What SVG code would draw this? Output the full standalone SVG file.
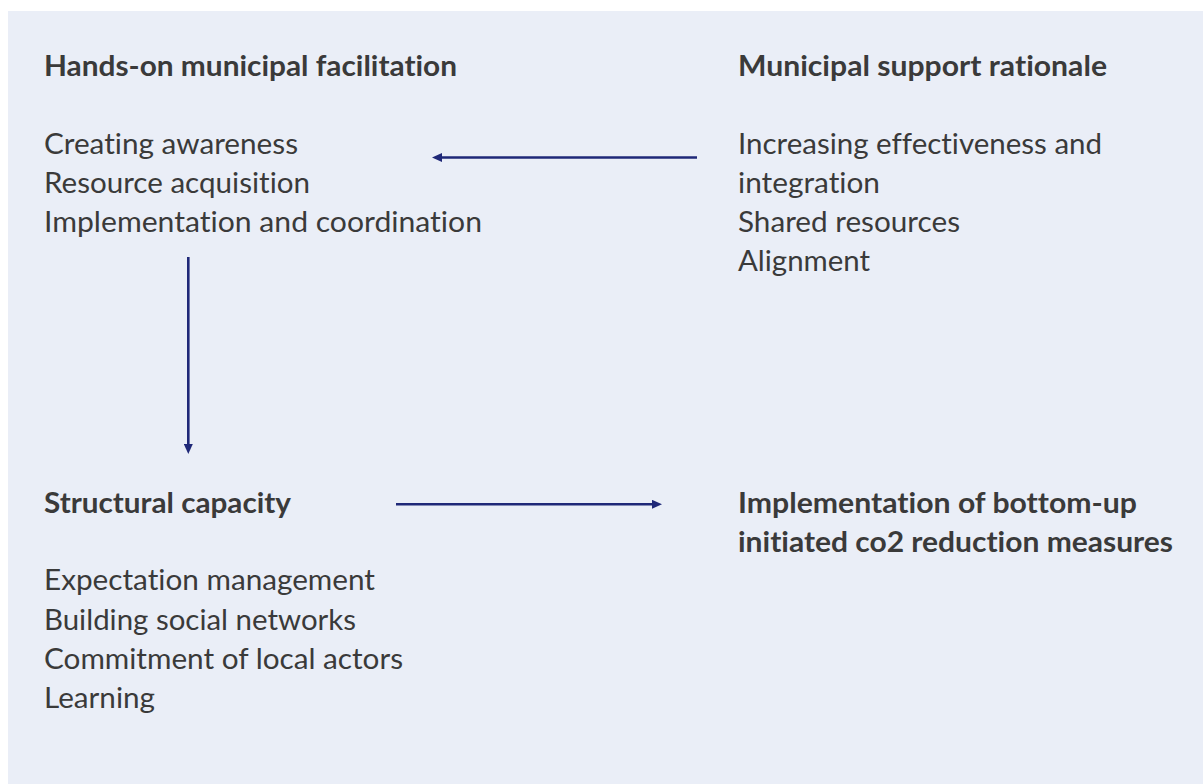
<svg xmlns="http://www.w3.org/2000/svg" width="1203" height="784" viewBox="0 0 1203 784">
  <defs>
    <style>
      .panel { fill: #EAEEF7; }
      .txt { font-family: Lato, "Open Sans", "Liberation Sans", sans-serif; font-size: 29px; fill: #3a3a3a; font-variant-ligatures: none; font-feature-settings: "liga" 0, "clig" 0; }
      .hd { font-weight: bold; }
      .conn { stroke: #1f2878; stroke-width: 2.6; fill: none; }
    </style>
    <marker id="head" markerUnits="userSpaceOnUse" markerWidth="11" markerHeight="9" refX="1" refY="4.5" orient="auto">
      <path d="M0,0 L10,4.5 L0,9 z" fill="#1f2878"/>
    </marker>
  </defs>

  <!-- background panel -->
  <rect class="panel" x="8" y="11" width="1195" height="773"/>

  <!-- top-left block -->
  <g id="facilitation">
    <text class="txt hd" x="44" y="76" textLength="413" lengthAdjust="spacingAndGlyphs">Hands-on municipal facilitation</text>
    <text class="txt" x="44" y="154" textLength="254" lengthAdjust="spacingAndGlyphs">Creating awareness</text>
    <text class="txt" x="44" y="193" textLength="266" lengthAdjust="spacingAndGlyphs">Resource acquisition</text>
    <text class="txt" x="44" y="232" textLength="438" lengthAdjust="spacingAndGlyphs">Implementation and coordination</text>
  </g>

  <!-- top-right block -->
  <g id="rationale">
    <text class="txt hd" x="738" y="76" textLength="369" lengthAdjust="spacingAndGlyphs">Municipal support rationale</text>
    <text class="txt" x="738" y="154" textLength="364" lengthAdjust="spacingAndGlyphs">Increasing effectiveness and</text>
    <text class="txt" x="738" y="193" textLength="142" lengthAdjust="spacingAndGlyphs">integration</text>
    <text class="txt" x="738" y="232" textLength="222" lengthAdjust="spacingAndGlyphs">Shared resources</text>
    <text class="txt" x="738" y="271" textLength="132" lengthAdjust="spacingAndGlyphs">Alignment</text>
  </g>

  <!-- bottom-left block -->
  <g id="capacity">
    <text class="txt hd" x="44" y="513" textLength="247" lengthAdjust="spacingAndGlyphs">Structural capacity</text>
    <text class="txt" x="44" y="590" textLength="331" lengthAdjust="spacingAndGlyphs">Expectation management</text>
    <text class="txt" x="44" y="629.5" textLength="312" lengthAdjust="spacingAndGlyphs">Building social networks</text>
    <text class="txt" x="44" y="669" textLength="359" lengthAdjust="spacingAndGlyphs">Commitment of local actors</text>
    <text class="txt" x="44" y="708" textLength="111" lengthAdjust="spacingAndGlyphs">Learning</text>
  </g>

  <!-- bottom-right block -->
  <g id="implementation">
    <text class="txt hd" x="738" y="513" textLength="399" lengthAdjust="spacingAndGlyphs">Implementation of bottom-up</text>
    <text class="txt hd" x="738" y="552" textLength="435" lengthAdjust="spacingAndGlyphs">initiated co2 reduction measures</text>
  </g>

  <!-- connectors -->
  <g id="connectors">
    <line class="conn" x1="697" y1="157.5" x2="441" y2="157.5" marker-end="url(#head)"/>
    <line class="conn" x1="188.3" y1="257" x2="188.3" y2="445" marker-end="url(#head)"/>
    <line class="conn" x1="396" y1="504.3" x2="653" y2="504.3" marker-end="url(#head)"/>
  </g>
</svg>
